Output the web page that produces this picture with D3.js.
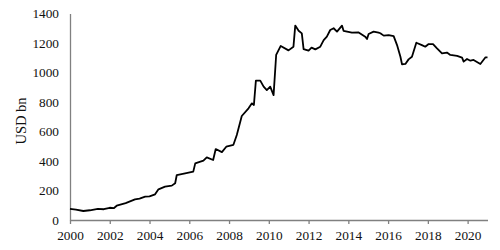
<!DOCTYPE html>
<html>
<head>
<meta charset="utf-8">
<script src="https://cdn.jsdelivr.net/npm/d3@7"></script>
<style>
  body { margin: 0; background: #fff; }
  svg text { font-family: "Liberation Serif", "Times New Roman", serif; }
</style>
</head>
<body>
<div id="chart"></div>
<script>
// data (decimal year, USD bn)
const years = [
  2000.0, 2000.3, 2000.67, 2001.0, 2001.4, 2001.7, 2002.0, 2002.2, 2002.35, 2002.8,
  2003.27, 2003.5, 2003.78, 2004.0, 2004.28, 2004.45, 2004.78, 2005.12, 2005.29, 2005.37,
  2005.79, 2006.2, 2006.3, 2006.71, 2006.88, 2007.2, 2007.33, 2007.64, 2007.86, 2008.22,
  2008.39, 2008.64, 2008.98, 2009.15, 2009.25, 2009.35, 2009.57, 2009.74, 2009.9, 2010.07,
  2010.24, 2010.37, 2010.6, 2010.99, 2011.24, 2011.33, 2011.5, 2011.66, 2011.75, 2012.0,
  2012.15, 2012.34, 2012.59, 2012.76, 2012.92, 2013.09, 2013.26, 2013.43, 2013.68, 2013.76,
  2014.18, 2014.52, 2014.85, 2014.94, 2015.02, 2015.27, 2015.52, 2015.61, 2015.78, 2016.03,
  2016.28, 2016.45, 2016.62, 2016.7, 2016.87, 2017.03, 2017.2, 2017.42, 2017.7, 2017.87,
  2018.04, 2018.26, 2018.46, 2018.71, 2018.96, 2019.13, 2019.47, 2019.72, 2019.8, 2019.97,
  2020.14, 2020.3, 2020.64, 2020.9, 2021.0
];
const values = [
  75, 70, 61, 66, 75, 73, 83, 80, 97, 115,
  140, 145, 158, 160, 174, 208, 226, 233, 249, 305,
  316, 328, 384, 402, 425, 407, 481, 460, 497, 510,
  576, 705, 757, 791, 780, 945, 945, 904, 881, 904,
  847, 1119, 1180, 1150, 1175, 1318, 1283, 1265, 1159, 1148,
  1169, 1157, 1175, 1220, 1243, 1288, 1300, 1277, 1318, 1283,
  1270, 1272, 1243, 1227, 1261, 1277, 1270, 1266, 1250, 1254,
  1247, 1186, 1107, 1056, 1058, 1089, 1107, 1202, 1186, 1175,
  1193, 1193, 1164, 1130, 1135, 1119, 1112, 1101, 1074, 1092,
  1080, 1085, 1058, 1103, 1103
];
const xTicks = [2000, 2002, 2004, 2006, 2008, 2010, 2012, 2014, 2016, 2018, 2020];
const yTicks = [0, 200, 400, 600, 800, 1000, 1200, 1400];

const WIDTH = 500, HEIGHT = 250;
const MARGIN = { TOP: 13.5, BOTTOM: 30, LEFT: 70, RIGHT: 12.5 };

const svg = d3.select('#chart').append('svg')
  .attr('width', WIDTH)
  .attr('height', HEIGHT);

const x = d3.scaleLinear().domain([2000, 2021]).range([MARGIN.LEFT, WIDTH - MARGIN.RIGHT]);
const y = d3.scaleLinear().domain([0, 1400]).range([HEIGHT - MARGIN.BOTTOM, MARGIN.TOP]);

const data = years.map((yr, i) => ({ yr, v: values[i] }));

// x axis
const xAxis = svg.append('g')
  .attr('transform', `translate(0, ${y(0)})`)
  .call(d3.axisBottom(x).tickValues(xTicks).tickFormat(d3.format('d')).tickSize(4).tickSizeOuter(0));
xAxis.select('.domain').attr('stroke', '#808080').attr('stroke-width', 1.3);
xAxis.selectAll('.tick line').attr('stroke', '#808080').attr('stroke-width', 1.3);
xAxis.selectAll('.tick text').attr('font-size', 13.3).attr('fill', '#111').attr('dy', '0.95em')
  .style('font-family', '"Liberation Serif", serif');

// y axis
const yAxis = svg.append('g')
  .attr('transform', `translate(${x(2000)}, 0)`)
  .call(d3.axisLeft(y).tickValues(yTicks).tickFormat(d3.format('d')).tickSize(0).tickPadding(11).tickSizeOuter(0));
yAxis.select('.domain').attr('stroke', '#808080').attr('stroke-width', 1.3);
yAxis.selectAll('.tick text').attr('font-size', 13.3).attr('fill', '#111')
  .style('font-family', '"Liberation Serif", serif');

// y label
svg.append('text')
  .attr('transform', `translate(23, 121) rotate(-90)`)
  .attr('text-anchor', 'middle')
  .attr('dominant-baseline', 'middle')
  .attr('font-size', 14.5)
  .attr('fill', '#111')
  .text('USD bn');

// line
const line = d3.line().x(d => x(d.yr)).y(d => y(d.v));
svg.append('path')
  .datum(data)
  .attr('d', line)
  .attr('fill', 'none')
  .attr('stroke', '#000')
  .attr('stroke-width', 1.8)
  .attr('stroke-linejoin', 'round');
</script>
</body>
</html>
